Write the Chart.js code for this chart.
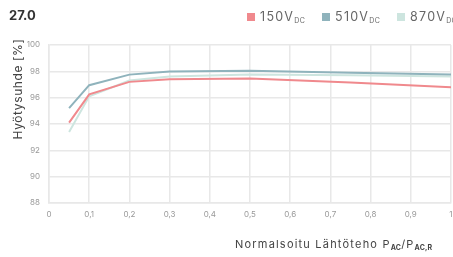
<!DOCTYPE html>
<html><head><meta charset="utf-8">
<script src="https://cdn.jsdelivr.net/npm/chart.js@4/dist/chart.umd.min.js"></script>
<style>
html,body{margin:0;padding:0;background:#fff;}
#wrap{position:relative;width:453px;height:257px;overflow:hidden;font-family:Inter,"Noto Sans",sans-serif;}
canvas{position:absolute;left:0;top:0;}
#title{position:absolute;left:9px;top:7px;font-size:13px;font-weight:700;color:#333;}
.li{position:absolute;top:9px;font-size:12.5px;color:#666;white-space:nowrap;letter-spacing:1.3px;}
.sw{display:inline-block;width:8px;height:8px;margin-right:5px;vertical-align:0px;}
sub{font-size:7px;vertical-align:-2px;letter-spacing:0.3px;}
#xtitle{position:absolute;left:235px;top:237px;font-size:11px;color:#444;white-space:nowrap;letter-spacing:1.2px;}
#xtitle sub{font-weight:700;font-size:7px;letter-spacing:0.2px;}
#ytitle{position:absolute;left:17px;top:89px;font-size:12px;color:#444;white-space:nowrap;letter-spacing:0.6px;transform:translate(-50%,-50%) rotate(-90deg);}
</style></head>
<body><div id="wrap"><canvas id="c" width="453" height="257"></canvas>
<div id="title">27.0</div>
<div id="ytitle">Hyötysuhde [%]</div>
<div id="xtitle">Normalsoitu Lähtöteho P<sub>AC</sub>/P<sub>AC,R</sub></div>
</div>
<script>
const loads = [0.05, 0.1, 0.2, 0.3, 0.5, 0.75, 1.0];
const eff150 = [94.1, 96.25, 97.2, 97.4, 97.45, 97.15, 96.8];
const eff510 = [95.2, 96.95, 97.75, 97.98, 98.05, 97.9, 97.75];
const eff870 = [93.4, 96.1, 97.3, 97.6, 97.75, 97.7, 97.6];
const seriesNames = ['150V', '510V', '870V'];
const colors = ['#f0898d', '#8fb3bc', '#cde5df'];
const yTicks = [88, 90, 92, 94, 96, 98, 100];

const allSeries = [eff150, eff510, eff870];
const wrap = document.getElementById('wrap');
const legendLeft = [247, 322, 397];
seriesNames.forEach((n, i) => {
  const s = document.createElement('div'); s.className = 'li';
  s.style.left = legendLeft[i] + 'px';
  s.innerHTML = '<span class="sw" style="background:' + colors[i] + '"></span>' + n + '<sub>DC</sub>';
  wrap.appendChild(s);
});

new Chart(document.getElementById('c'), {
  type: 'line',
  data: {
    datasets: allSeries.map((vals, i) => ({
      label: seriesNames[i],
      data: loads.map((x, j) => ({x: x, y: vals[j]})),
      borderColor: colors[i],
      backgroundColor: colors[i],
      borderWidth: 2,
      pointRadius: 0,
      tension: 0,
      order: i === 1 ? 0 : (i === 0 ? 1 : 2)
    }))
  },
  options: {
    responsive: false,
    animation: false,
    layout: {padding: {left: 0, right: 2, top: 45, bottom: 0}},
    plugins: {legend: {display: false}, tooltip: {enabled: false}},
    scales: {
      x: {
        type: 'linear', min: 0, max: 1,
        afterFit: (s) => { s.height = 54; s.paddingLeft = 0; s.paddingRight = 0; },
        grid: {color: '#e8e8e8', lineWidth: 1.5, drawTicks: false},
        border: {color: '#e8e8e8', width: 1.5},
        ticks: {
          stepSize: 0.1, padding: 7, color: '#999',
          font: {size: 8, family: 'Inter'},
          callback: (v) => { const r = Math.round(v * 10) / 10; return r === 0 ? '0' : (r === 1 ? '1' : r.toFixed(1).replace('.', ',')); }
        }
      },
      y: {
        min: 88, max: 100,
        afterFit: (s) => { s.width = 49; s.paddingTop = 0; s.paddingBottom = 0; },
        afterBuildTicks: (s) => { s.ticks = yTicks.map(v => ({value: v})); },
        grid: {color: '#e8e8e8', lineWidth: 1.5, drawTicks: false},
        border: {color: '#e8e8e8', width: 1.5},
        ticks: {padding: 9, color: '#999', font: {size: 8, family: 'Inter'}}
      }
    }
  }
});
</script></body></html>
